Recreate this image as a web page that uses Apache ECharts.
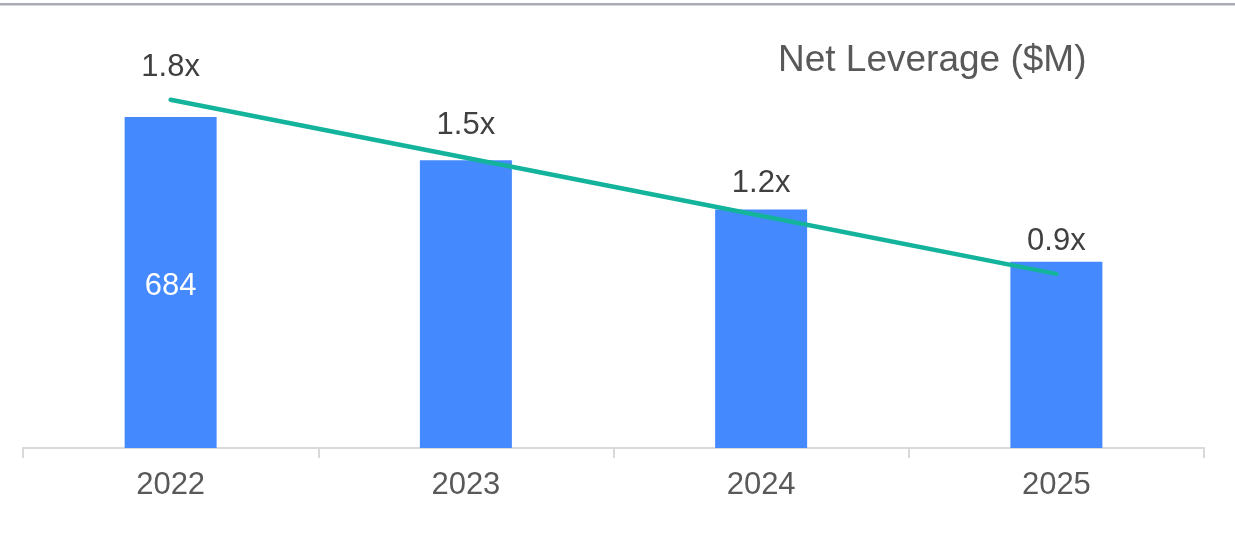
<!DOCTYPE html>
<html>
<head>
<meta charset="utf-8">
<script src="https://cdn.jsdelivr.net/npm/echarts@6/dist/echarts.min.js"></script>
<style>
html,body{margin:0;padding:0;background:#fff;}
#chart{width:1235px;height:538px;}
</style>
</head>
<body>
<div id="chart"></div>
<script>
const categories = ['2022', '2023', '2024', '2025'];
const netDebt = [684, 595, 493, 385];
const leverage = [1.8, 1.5, 1.2, 0.9];
const titleText = 'Net Leverage ($M)';

const FONT = '"Liberation Sans", Arial, sans-serif';
const chart = echarts.init(document.getElementById('chart'));
chart.setOption({
  animation: false,
  backgroundColor: '#ffffff',
  title: {
    text: titleText,
    left: 773,
    top: 37,
    textStyle: { fontFamily: FONT, fontSize: 37, fontWeight: 'normal', color: '#595959' }
  },
  graphic: [{
    type: 'rect',
    shape: { x: 0, y: 3, width: 1235, height: 2.5 },
    style: { fill: '#a9acb5' },
    silent: true
  }],
  grid: { left: 23, right: 31, top: 61, bottom: 90 },
  xAxis: {
    type: 'category',
    data: categories,
    axisLine: { lineStyle: { color: '#d9d9d9', width: 2 } },
    axisTick: { show: true, length: 10, lineStyle: { color: '#d9d9d9', width: 2 } },
    axisLabel: { fontFamily: FONT, fontSize: 31, color: '#595959', margin: 22 }
  },
  yAxis: [
    { type: 'value', min: 0, max: 800, show: false, splitLine: { show: false } },
    { type: 'value', min: 0, max: 2, show: false, splitLine: { show: false } }
  ],
  series: [
    {
      type: 'bar',
      data: netDebt,
      barWidth: 92,
      itemStyle: { color: '#4589ff' },
      label: {
        show: true,
        position: 'inside',
        offset: [0, 4],
        fontFamily: FONT,
        fontSize: 31,
        color: '#ffffff',
        formatter: p => (p.dataIndex === 0 ? String(p.value) : '')
      },
      z: 2
    },
    {
      type: 'line',
      yAxisIndex: 1,
      data: leverage,
      symbol: 'circle',
      symbolSize: 1,
      showSymbol: true,
      itemStyle: { color: 'rgba(0,0,0,0)' },
      lineStyle: { color: '#13b49b', width: 4.5, cap: 'round' },
      label: {
        show: true,
        position: 'top',
        distance: 16,
        fontFamily: FONT,
        fontSize: 31,
        color: '#404040',
        formatter: p => p.value.toFixed(1) + 'x'
      },
      z: 3
    }
  ]
});
</script>
</body>
</html>
